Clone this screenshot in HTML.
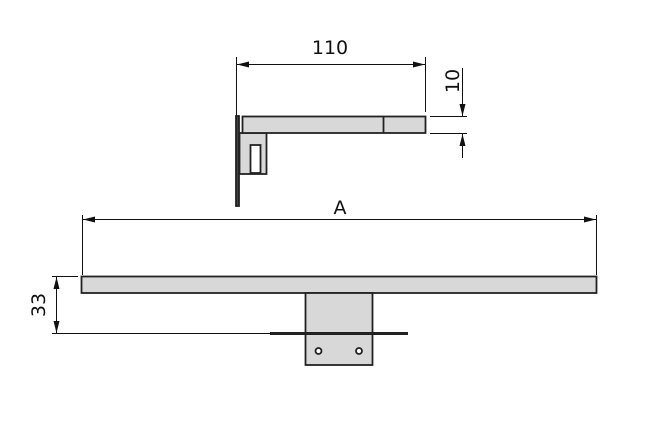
<!DOCTYPE html>
<html><head><style>html,body{margin:0;padding:0;background:#fff}</style></head><body>
<svg width="650" height="431" viewBox="0 0 650 431" xmlns="http://www.w3.org/2000/svg" font-family="'DejaVu Sans','Liberation Sans',sans-serif">
<defs>
<marker id="a" markerWidth="12" markerHeight="6" refX="12" refY="3" orient="auto-start-reverse" markerUnits="userSpaceOnUse"><path d="M0,0L12,3L0,6z" fill="#111"/></marker>
</defs>
<g stroke="#111" fill="none" stroke-width="1">
<line x1="236.5" y1="57" x2="236.5" y2="116"/>
<line x1="425.5" y1="57" x2="425.5" y2="112"/>
<line x1="237" y1="64.5" x2="425" y2="64.5" marker-start="url(#a)" marker-end="url(#a)"/>
<line x1="430" y1="116.5" x2="467" y2="116.5"/>
<line x1="430" y1="133.5" x2="467" y2="133.5"/>
<line x1="462.5" y1="68" x2="462.5" y2="116" marker-end="url(#a)"/>
<line x1="462.5" y1="158" x2="462.5" y2="134" marker-end="url(#a)"/>
<line x1="82.5" y1="215" x2="82.5" y2="275"/>
<line x1="596.5" y1="215" x2="596.5" y2="275"/>
<line x1="83" y1="219.5" x2="596" y2="219.5" marker-start="url(#a)" marker-end="url(#a)"/>
<line x1="52" y1="276.5" x2="78" y2="276.5"/>
<line x1="52" y1="333.5" x2="272" y2="333.5"/>
<line x1="56.5" y1="277" x2="56.5" y2="333" marker-start="url(#a)" marker-end="url(#a)"/>
</g>
<g stroke="#222" stroke-width="1.8" fill="#d8d8d8">
<rect x="239.5" y="133" width="27" height="41"/>
<rect x="250.5" y="145" width="10" height="28" fill="#fff"/>
<rect x="242.5" y="116.5" width="183" height="16.5"/>
<line x1="383.5" y1="116.5" x2="383.5" y2="133"/>
<rect x="236" y="116" width="3" height="90" fill="#444"/>
<rect x="81.5" y="276.5" width="515" height="16.5"/>
<rect x="305.5" y="293" width="67" height="72"/>
<line x1="270" y1="333.5" x2="408" y2="333.5" stroke-width="3" stroke="#222"/>
<circle cx="318.5" cy="351" r="3" fill="#fff"/>
<circle cx="359" cy="351" r="3" fill="#fff"/>
</g>
<g fill="#111" font-size="19">
<text x="330" y="54" text-anchor="middle">110</text>
<text x="340" y="214" text-anchor="middle">A</text>
<text transform="translate(459,81) rotate(-90)" text-anchor="middle">10</text>
<text transform="translate(45,305) rotate(-90)" text-anchor="middle">33</text>
</g>
</svg>
</body></html>
